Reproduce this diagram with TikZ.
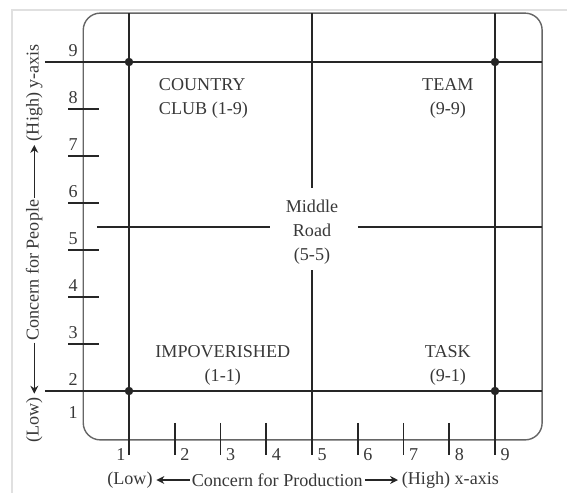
\documentclass[tikz,border=0pt]{standalone}
\usepackage{fontspec}
\setmainfont{Liberation Serif}
\usetikzlibrary{arrows.meta}
\usetikzlibrary{positioning}

\tikzset{
  frameline/.style={line width=0.8pt, black!60, rounded corners=0.34cm},
  gridline/.style={line width=1.1pt, black!85},
  scalemark/.style={line width=1.1pt, black!85},
  joint/.style={circle, fill=black!85, inner sep=0pt, minimum size=0.17cm},
  lbl/.style={font=\fontsize{10.3}{13.6}\selectfont, text=black!78},
  axlbl/.style={lbl, inner xsep=1pt},
  arr/.style={-{Stealth[length=4.5pt,width=4.5pt]}, line width=0.7pt, black!85, shorten >=1pt},
}

\begin{document}
\begin{tikzpicture}[x=0.915cm, y=0.94cm]
\useasboundingbox (-1.8197,-0.1702) rectangle (10.5738,10.3191);
\draw[black!12, line width=0.6pt] (-1.557,-0.1702) -- (-1.557,10.106) -- (10.5738,10.106);

\draw[frameline] (0,0.96) rectangle (10.03,10.04);

\draw[gridline] (-0.84,9) -- (10.03,9);
\draw[gridline] (-0.84,2) -- (10.03,2);
\draw[gridline] (0.30,5.49) -- (4.08,5.49);
\draw[gridline] (6.0,5.49) -- (10.03,5.49);
\draw[gridline] (1,10.04) -- (1,0.64);
\draw[gridline] (9,10.04) -- (9,0.64);
\draw[gridline] (5,10.04) -- (5,6.32);
\draw[gridline] (5,4.57) -- (5,0.64);

\node[joint] (j19) at (1,9) {};
\node[joint] (j99) at (9,9) {};
\node[joint] (j11) at (1,2) {};
\node[joint] (j91) at (9,2) {};

\draw[scalemark] (2,1.32) -- (2,0.64);
\draw[scalemark] (3,1.32) -- (3,0.64);
\draw[scalemark] (4,1.32) -- (4,0.64);
\draw[scalemark] (6,1.32) -- (6,0.64);
\draw[scalemark] (7,1.32) -- (7,0.64);
\draw[scalemark] (8,1.32) -- (8,0.64);

\draw[scalemark] (-0.33,3) -- (0.345,3);
\draw[scalemark] (-0.33,4) -- (0.345,4);
\draw[scalemark] (-0.33,5) -- (0.345,5);
\draw[scalemark] (-0.33,6) -- (0.345,6);
\draw[scalemark] (-0.33,7) -- (0.345,7);
\draw[scalemark] (-0.33,8) -- (0.345,8);

\node[lbl] (xl1) at (0.825,0.64) {1};
\node[lbl] (xl2) at (2.22,0.64) {2};
\node[lbl] (xl3) at (3.22,0.64) {3};
\node[lbl] (xl4) at (4.22,0.64) {4};
\node[lbl] (xl5) at (5.22,0.64) {5};
\node[lbl] (xl6) at (6.22,0.64) {6};
\node[lbl] (xl7) at (7.22,0.64) {7};
\node[lbl] (xl8) at (8.22,0.64) {8};
\node[lbl] (xl9) at (9.22,0.64) {9};

\node[lbl] (yl1) at (-0.22,1.55) {1};
\node[lbl] (yl2) at (-0.22,2.24) {2};
\node[lbl] (yl3) at (-0.22,3.24) {3};
\node[lbl] (yl4) at (-0.22,4.24) {4};
\node[lbl] (yl5) at (-0.22,5.24) {5};
\node[lbl] (yl6) at (-0.22,6.24) {6};
\node[lbl] (yl7) at (-0.22,7.24) {7};
\node[lbl] (yl8) at (-0.22,8.24) {8};
\node[lbl] (yl9) at (-0.22,9.24) {9};

\node[lbl, align=left, anchor=west] (club) at (1.52,8.23) {COUNTRY\\CLUB (1-9)};
\node[lbl, align=center] (team) at (7.97,8.23) {TEAM\\(9-9)};
\node[lbl, align=center] (mid) at (5,5.38) {Middle\\Road\\(5-5)};
\node[lbl, align=center] (poor) at (3.05,2.55) {IMPOVERISHED\\(1-1)};
\node[lbl, align=center] (task) at (7.97,2.55) {TASK\\(9-1)};

\node[axlbl] (prodx) at (4.24,0.106) {Concern for Production};
\node[axlbl, left=0.7cm of prodx] (lowx) {(Low)};
\node[axlbl, right=0.7cm of prodx] (highx) {(High) x-axis};
\draw[arr] (prodx) -- (lowx);
\draw[arr] (prodx) -- (highx);

\node[axlbl, rotate=90] (ppl) at (-1.07,4.57) {Concern for People};
\node[axlbl, rotate=90] (lowy) at (-1.07,1.38) {(Low)};
\node[axlbl, rotate=90] (highy) at (-1.07,8.35) {(High) y-axis};
\draw[arr] (ppl) -- (lowy);
\draw[arr] (ppl) -- (highy);

\end{tikzpicture}
\end{document}
